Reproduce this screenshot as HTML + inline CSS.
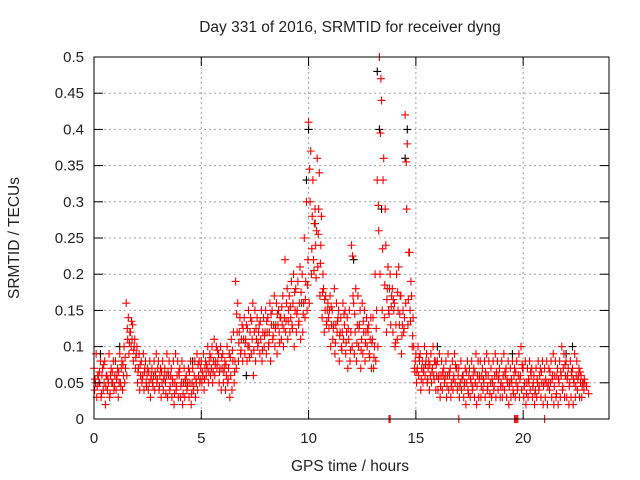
<!DOCTYPE html>
<html><head><meta charset="utf-8"><style>
body{margin:0;background:#fff}
svg{display:block;font-family:"Liberation Sans",sans-serif}
</style></head><body>
<svg id="chart" width="640" height="480">
<text x="350" y="32" font-size="15.5" text-anchor="middle" fill="#222">Day 331 of 2016, SRMTID for receiver dyng</text>
<text x="350" y="471" font-size="15.5" text-anchor="middle" fill="#222">GPS time / hours</text>
<text transform="translate(19,238) rotate(-90)" font-size="15.5" text-anchor="middle" fill="#222">SRMTID / TECUs</text>
<g id="grid"></g><g id="marks"></g><g id="axes"></g>
</svg>
<script>
const xTicks=[0,5,10,15,20];
const yTicks=[0,0.05,0.1,0.15,0.2,0.25,0.3,0.35,0.4,0.45,0.5];
const yTickLabels=["0","0.05","0.1","0.15","0.2","0.25","0.3","0.35","0.4","0.45","0.5"];
const seriesA=[.07,.09,.06,.08,.07,.08,.06,.09,.07,.08,.08,.07,.09,.08,.10,.16,.14,.12,.13,.11,.10,.09,.08,.09,.08,.07,.08,.07,.08,.09,.08,.07,.08,.07,.09,.08,.07,.08,.09,.08,.07,.08,.07,.06,.07,.08,.07,.08,.09,.08,.08,.09,.08,.10,.09,.10,.11,.10,.09,.10,.09,.08,.10,.09,.11,.12,.19,.16,.14,.13,.14,.13,.15,.14,.16,.15,.14,.13,.15,.14,.15,.14,.16,.15,.17,.16,.15,.14,.17,.22,.18,.17,.19,.20,.18,.19,.21,.20,.25,.30,.41,.37,.33,.29,.36,.34,.28,.18,.17,.16,.17,.15,.18,.16,.15,.14,.16,.15,.14,.15,.24,.16,.18,.17,.15,.16,.15,.14,.13,.14,.14,.20,.33,.50,.44,.36,.24,.21,.20,.18,.16,.20,.21,.17,.15,.42,.38,.23,.17,.10,.09,.10,.09,.08,.10,.09,.08,.09,.10,.08,.08,.09,.08,.07,.08,.09,.07,.08,.09,.07,.07,.08,.06,.07,.08,.07,.08,.07,.09,.08,.08,.07,.08,.09,.08,.07,.08,.09,.08,.07,.08,.09,.07,.08,.07,.08,.07,.08,.09,.10,.07,.08,.07,.08,.07,.06,.07,.08,.07,.08,.07,.08,.07,.08,.09,.08,.07,.08,.10,.09,.08,.07,.08,.07,.09,.08,.07,.06,.05];
const seriesB=[.04,.03,.05,.03,.04,.02,.04,.03,.05,.04,.04,.03,.05,.04,.05,.06,.09,.10,.08,.07,.05,.04,.05,.04,.05,.04,.03,.05,.04,.05,.04,.03,.04,.05,.03,.04,.03,.02,.04,.03,.03,.02,.03,.04,.03,.02,.04,.03,.04,.05,.05,.04,.06,.05,.06,.05,.06,.07,.05,.04,.05,.04,.05,.03,.04,.05,.07,.08,.09,.08,.09,.08,.10,.09,.06,.08,.10,.09,.08,.10,.09,.10,.08,.11,.10,.09,.12,.11,.10,.12,.11,.12,.13,.10,.12,.13,.11,.12,.14,.15,.16,.20,.22,.24,.21,.17,.14,.12,.13,.14,.10,.11,.09,.12,.08,.10,.11,.09,.07,.08,.10,.09,.08,.10,.07,.09,.08,.10,.09,.07,.07,.08,.10,.20,.15,.14,.12,.15,.13,.12,.10,.11,.13,.09,.12,.16,.13,.15,.10,.07,.05,.06,.04,.05,.06,.05,.04,.05,.06,.04,.04,.03,.04,.05,.03,.04,.03,.04,.05,.04,.03,.04,.03,.02,.04,.03,.04,.03,.02,.03,.03,.04,.03,.04,.02,.03,.04,.03,.04,.03,.03,.04,.03,.02,.03,.04,.03,.04,.03,.04,.03,.02,.03,.04,.03,.02,.03,.04,.03,.02,.03,.02,.04,.03,.02,.03,.02,.03,.04,.03,.03,.02,.03,.02,.03,.04,.03,.03,.04];
const seriesC=[.05,.06,.05,.06,.05,.06,.05,.06,.05,.06,.06,.05,.07,.06,.07,.11,.12,.11,.10,.09,.07,.06,.06,.07,.06,.05,.06,.06,.06,.07,.06,.05,.06,.06,.06,.06,.05,.05,.06,.06,.05,.05,.05,.05,.05,.05,.06,.05,.06,.07,.06,.07,.07,.08,.07,.08,.08,.08,.07,.07,.07,.06,.07,.06,.08,.08,.12,.12,.11,.11,.11,.10,.12,.11,.12,.11,.12,.11,.12,.12,.12,.12,.13,.13,.13,.13,.14,.13,.14,.16,.15,.14,.16,.15,.15,.16,.16,.16,.19,.22,.30,.28,.27,.26,.29,.24,.20,.15,.15,.15,.13,.13,.13,.14,.12,.12,.13,.12,.11,.12,.17,.12,.13,.13,.11,.12,.12,.12,.11,.11,.10,.15,.26,.47,.33,.29,.18,.18,.17,.15,.13,.15,.17,.13,.14,.29,.23,.19,.14,.08,.07,.08,.07,.07,.08,.07,.06,.07,.08,.06,.06,.06,.06,.06,.06,.06,.05,.06,.07,.06,.05,.06,.05,.05,.06,.05,.06,.05,.06,.06,.06,.05,.06,.06,.05,.05,.06,.06,.06,.05,.06,.06,.05,.05,.05,.06,.05,.06,.06,.07,.05,.05,.05,.06,.05,.04,.05,.06,.05,.05,.05,.05,.05,.06,.06,.06,.05,.06,.07,.06,.06,.05,.06,.05,.06,.06,.05,.05,.05];
const seriesD=[.055,.045,.065,.035,.075,.045,.055,.035,.065,.045,.055,.065,.045,.075,.085,.125,.105,.135,.095,.085,.065,.075,.055,.065,.045,.065,.055,.045,.065,.055,.045,.065,.055,.035,.065,.045,.055,.035,.045,.065,.045,.035,.055,.045,.065,.035,.045,.055,.075,.055,.065,.055,.075,.065,.085,.065,.075,.095,.065,.085,.065,.075,.055,.085,.095,.065,.145,.105,.095,.125,.105,.125,.085,.135,.095,.125,.105,.135,.095,.115,.135,.105,.145,.115,.125,.145,.105,.155,.125,.135,.135,.155,.125,.175,.145,.135,.175,.145,.165,.185,.345,.235,.205,.195,.255,.215,.175,.165,.135,.125,.155,.125,.105,.135,.115,.095,.145,.105,.125,.095,.225,.145,.105,.125,.095,.135,.105,.125,.085,.105,.085,.125,.295,.395,.235,.185,.165,.145,.155,.165,.105,.175,.145,.115,.125,.355,.165,.135,.115,.065,.065,.085,.055,.065,.075,.055,.075,.065,.055,.075,.055,.045,.065,.055,.045,.065,.045,.055,.075,.045,.045,.055,.045,.065,.035,.055,.045,.065,.045,.055,.045,.055,.065,.045,.035,.055,.045,.065,.055,.045,.045,.065,.055,.045,.055,.035,.065,.045,.055,.075,.045,.035,.055,.065,.045,.035,.055,.045,.065,.045,.055,.045,.065,.055,.045,.035,.055,.065,.045,.075,.055,.045,.065,.055,.045,.055,.065,.045,.055,.045,.035];
const blackTimes=[0.3,1.2,4.6,7.1,9.9,10.0,10.3,12.1,13.2,13.3,13.4,14.5,14.6,16.0,19.5,22.0,22.3];
const blackValues=[.09,.10,.08,.06,.33,.40,.27,.22,.48,.40,.29,.36,.40,.10,.09,.09,.10];
const zeroTimes=[13.75,13.8,17.0,19.6,19.65,19.7,19.75,21.0];
const zeroValues=[0,0,0,0,0,0,0,0];

const L=94,R=609,T=57,B=419;
const X=t=>L+(t/24)*(R-L);
const Y=v=>B-(v/0.5)*(B-T);
const NS="http://www.w3.org/2000/svg";
function mk(tag,parent,attrs){const e=document.createElementNS(NS,tag);for(const k in attrs)e.setAttribute(k,attrs[k]);parent.appendChild(e);return e;}
const grid=document.getElementById('grid'),marks=document.getElementById('marks'),axes=document.getElementById('axes');
yTicks.forEach((v,i)=>{
  if(i>0&&i<yTicks.length-1){const g=mk('line',grid,{x1:L,x2:R,y1:Y(v),y2:Y(v),stroke:'#a0a0a0','stroke-dasharray':'2,3'});
  
  }
  mk('line',axes,{x1:L,x2:L+9,y1:Y(v),y2:Y(v),stroke:'#000'});
  mk('line',axes,{x1:R,x2:R-9,y1:Y(v),y2:Y(v),stroke:'#000'});
  const tx=mk('text',axes,{x:L-10,y:Y(v)+5,'font-size':15,'text-anchor':'end',fill:'#222'});
  tx.textContent=yTickLabels[i];
  
  
});
xTicks.forEach(t=>{
  if(t>0){const g=mk('line',grid,{x1:X(t),x2:X(t),y1:T,y2:B,stroke:'#a0a0a0','stroke-dasharray':'2,3'});
  
  }
  mk('line',axes,{x1:X(t),x2:X(t),y1:B,y2:B-9,stroke:'#000'});
  mk('line',axes,{x1:X(t),x2:X(t),y1:T,y2:T+9,stroke:'#000'});
  const tx=mk('text',axes,{x:X(t),y:B+24,'font-size':15,'text-anchor':'middle',fill:'#222'});
  tx.textContent=String(t);
  
  
});
const frame=mk('rect',axes,{x:L,y:T,width:R-L,height:B-T,fill:'none',stroke:'#000'});


function cross(t,v,col){
  const x=X(t),y=Y(v);
  const p=mk('path',marks,{d:`M${x-4} ${y}h8M${x} ${y-4}v8`,stroke:col,'stroke-width':1.1,fill:'none'});
  
  
}
blackTimes.forEach((t,i)=>cross(t,blackValues[i],'#000'));
seriesB.forEach((v,i)=>cross(i*0.1+0.03,v,'#f00'));
seriesD.forEach((v,i)=>cross(i*0.1+0.05,v,'#f00'));
seriesC.forEach((v,i)=>cross(i*0.1+0.07,v,'#f00'));
seriesA.forEach((v,i)=>cross(i*0.1,v,'#f00'));
zeroTimes.forEach((t,i)=>cross(t,zeroValues[i],'#f00'));
</script>
</body></html>
